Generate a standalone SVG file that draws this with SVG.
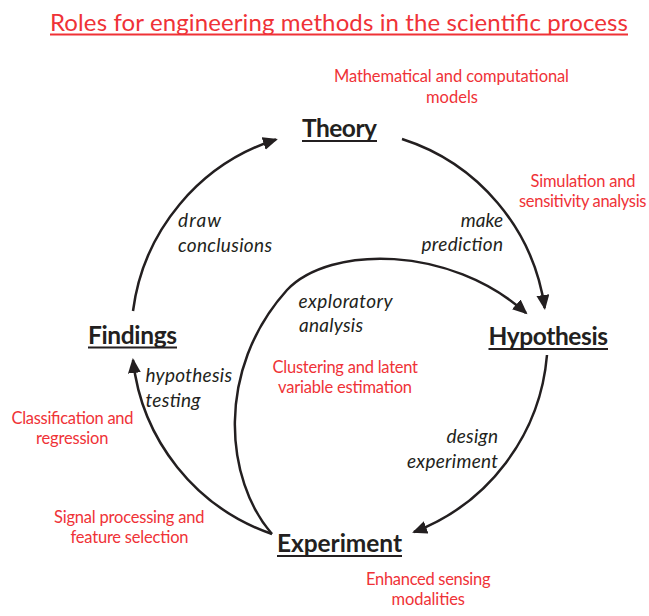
<svg xmlns="http://www.w3.org/2000/svg" width="649" height="616" viewBox="0 0 649 616">
<style>
.red{font-family:Lato,"Liberation Sans",sans-serif;font-size:16.5px;fill:#ef3237}
.lab{font-family:Lato,"Liberation Sans",sans-serif;font-size:19px;font-style:italic;fill:#231f20}
.node{font-family:Lato,"Liberation Sans",sans-serif;font-size:24.5px;font-weight:bold;fill:#231f20}
.ul{stroke:#231f20;stroke-width:2}
.conn{fill:none;stroke:#231f20;stroke-width:2.5}
.title{font-family:Lato,"Liberation Sans",sans-serif;font-size:24px;fill:#ef3237}
</style>
<defs>
<marker id="ah" markerUnits="userSpaceOnUse" markerWidth="16" markerHeight="14" refX="13" refY="6.5" orient="auto">
<path d="M0,0 L15,6.5 L0,13 Z" fill="#231f20"/>
</marker>
</defs>
<rect width="649" height="616" fill="#ffffff"/>
<g id="title">
<text class="title" x="50" y="31" textLength="578">Roles for engineering methods in the scientific process</text>
<line x1="50" y1="34.5" x2="628" y2="34.5" stroke="#ef3237" stroke-width="2.2"/>
</g>
<g id="connectors">
<path class="conn" d="M133,311 A208,208 0 0 1 276,139.5" marker-end="url(#ah)"/>
<path class="conn" d="M402,139 A208,208 0 0 1 544.7,308" marker-end="url(#ah)"/>
<path class="conn" d="M547,355 A208,208 0 0 1 414,532" marker-end="url(#ah)"/>
<path class="conn" d="M272,534 A208,208 0 0 1 133,360" marker-end="url(#ah)"/>
<path class="conn" d="M272,534 C225,480 215,370 287,290 C330,245 450,245 526,313" marker-end="url(#ah)"/>
</g>
<g id="theory">
<text class="node" x="302" y="137" textLength="75">Theory</text>
<line class="ul" x1="302" y1="141" x2="377" y2="141"/>
</g>
<g id="hypothesis">
<text class="node" x="488.5" y="345" textLength="119.5">Hypothesis</text>
<line class="ul" x1="488.5" y1="349" x2="608" y2="349"/>
</g>
<g id="experiment">
<text class="node" x="277" y="552" textLength="125">Experiment</text>
<line class="ul" x1="277" y1="556" x2="402" y2="556"/>
</g>
<g id="findings">
<text class="node" x="88" y="343.5" textLength="89">Findings</text>
<line class="ul" x1="88" y1="347.5" x2="177" y2="347.5"/>
</g>
<g id="edge-labels">
<text class="lab" x="178" y="227" textLength="43">draw</text>
<text class="lab" x="178" y="251.5" textLength="94">conclusions</text>
<text class="lab" x="503" y="226.5" text-anchor="end">make</text>
<text class="lab" x="421.5" y="250.5" textLength="81.5">prediction</text>
<text class="lab" x="298.5" y="308" textLength="94">exploratory</text>
<text class="lab" x="299" y="332" textLength="64">analysis</text>
<text class="lab" x="145.5" y="382" textLength="86.5">hypothesis</text>
<text class="lab" x="145.5" y="406.5" textLength="55">testing</text>
<text class="lab" x="446.5" y="443" textLength="51.5">design</text>
<text class="lab" x="407" y="467.5" textLength="91">experiment</text>
</g>
<g id="method-notes">
<text class="red" x="334" y="82" textLength="235">Mathematical and computational</text>
<text class="red" x="452" y="103" text-anchor="middle">models</text>
<text class="red" x="530.5" y="186.5" textLength="105">Simulation and</text>
<text class="red" x="519" y="206.5" textLength="127.5">sensitivity analysis</text>
<text class="red" x="272.5" y="372.5" textLength="145.5">Clustering and latent</text>
<text class="red" x="278" y="392.5" textLength="134">variable estimation</text>
<text class="red" x="11.5" y="424" textLength="122">Classification and</text>
<text class="red" x="36" y="444" textLength="72.5">regression</text>
<text class="red" x="54" y="522.5" textLength="150.5">Signal processing and</text>
<text class="red" x="70.5" y="543" textLength="118">feature selection</text>
<text class="red" x="366" y="585" textLength="124.5">Enhanced sensing</text>
<text class="red" x="391.5" y="605" textLength="73.5">modalities</text>
</g>
</svg>
